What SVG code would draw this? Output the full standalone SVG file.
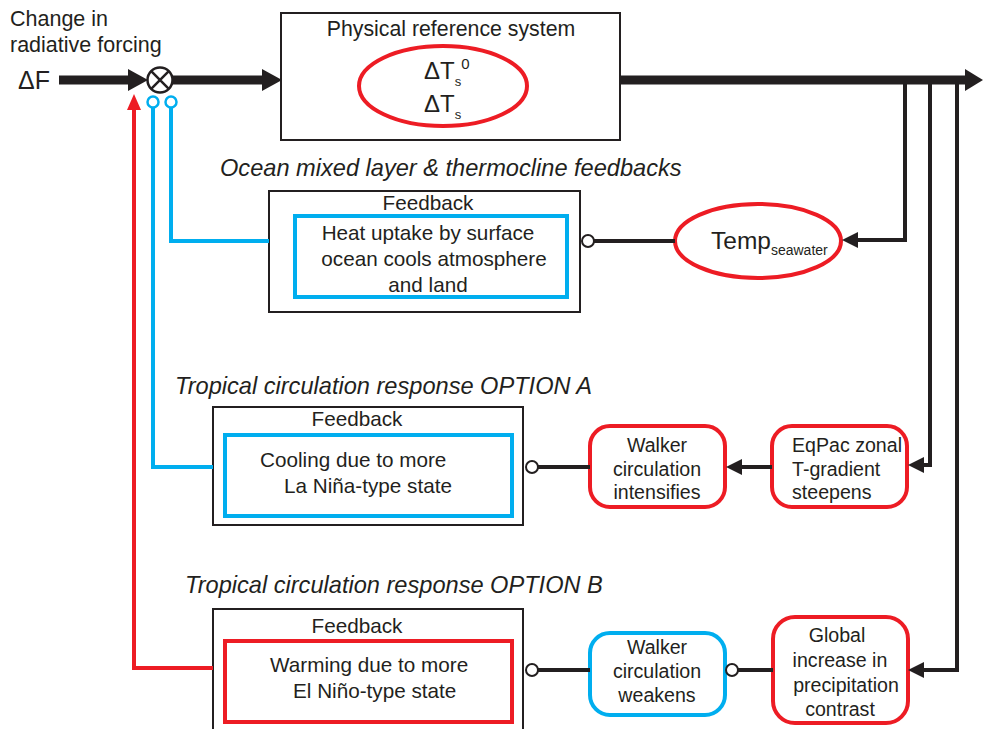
<svg xmlns="http://www.w3.org/2000/svg" width="983" height="729" viewBox="0 0 983 729">
<style>
text{font-family:"Liberation Sans",Arial,sans-serif;fill:#231f20}
.t{font-size:20.7px}
.s{font-size:19.6px}
.c{text-anchor:middle}
.it{font-style:italic;font-size:23.6px}
.box{fill:none;stroke:#231f20;stroke-width:2}
.cy{fill:none;stroke:#00aeef;stroke-width:4}
.rd{fill:none;stroke:#ed1c24;stroke-width:4}
.ln{fill:none;stroke:#231f20;stroke-width:4}
.oc{fill:#fff;stroke:#231f20;stroke-width:2}
</style>
<rect width="983" height="729" fill="#fff"/>
<g id="forcing">
<text x="10" y="26" font-size="21.5">Change in</text>
<text x="10" y="52" font-size="21.5">radiative forcing</text>
<text x="18" y="89" font-size="25">ΔF</text>
</g>
<g id="summing">
<circle cx="160" cy="80" r="12.5" fill="#fff" stroke="#231f20" stroke-width="2.5"/>
<path d="M151.2 71.2L168.8 88.8M168.8 71.2L151.2 88.8" stroke="#231f20" stroke-width="2.5"/>
</g>
<g id="physical">
<rect class="box" x="281" y="13" width="339" height="127"/>
<text class="c" x="451" y="36" font-size="21.3">Physical reference system</text>
<ellipse cx="443" cy="86" rx="84" ry="40" class="rd"/>
<text x="424" y="79" font-size="24">ΔT<tspan font-size="13" dy="7">s</tspan><tspan font-size="15" dy="-17">0</tspan></text>
<text x="424" y="112" font-size="24">ΔT<tspan font-size="13" dy="7">s</tspan></text>
</g>
<g id="temp">
<ellipse cx="758" cy="241" rx="83" ry="37" class="rd"/>
<text x="711" y="249" font-size="24.5">Temp<tspan font-size="14" dy="6">seawater</tspan></text>
</g>
<g id="labels">
<text class="it" x="220" y="176">Ocean mixed layer &amp; thermocline feedbacks</text>
<text class="it" x="175" y="394">Tropical circulation response OPTION A</text>
<text class="it" x="185" y="593">Tropical circulation response OPTION B</text>
</g>
<g id="feedback1">
<rect class="box" x="269" y="191" width="311" height="121"/>
<text class="t c" x="428" y="210">Feedback</text>
<rect class="cy" x="295" y="216" width="272" height="81"/>
<text class="t c" x="428" y="240">Heat uptake by surface</text>
<text class="t c" x="434" y="266">ocean cools atmosphere</text>
<text class="t c" x="428" y="292">and land</text>
</g>
<g id="feedbackA">
<rect class="box" x="213" y="407" width="310" height="118"/>
<text class="t c" x="357" y="426">Feedback</text>
<rect class="cy" x="225" y="435" width="287" height="81"/>
<text class="t" x="260" y="467">Cooling due to more</text>
<text class="t" x="284" y="493">La Niña-type state</text>
</g>
<g id="walkerA">
<rect class="rd" x="590" y="426" width="135" height="81" rx="20"/>
<text class="s c" x="657" y="452">Walker</text>
<text class="s c" x="657" y="476">circulation</text>
<text class="s c" x="657" y="499">intensifies</text>
</g>
<g id="eqpac">
<rect class="rd" x="772" y="426" width="135" height="81" rx="20"/>
<text class="s" x="792" y="452">EqPac zonal</text>
<text class="s" x="792" y="476">T-gradient</text>
<text class="s" x="792" y="499">steepens</text>
</g>
<g id="feedbackB">
<rect class="box" x="213" y="609" width="310" height="130"/>
<text class="t c" x="357" y="633">Feedback</text>
<rect class="rd" x="225" y="641" width="287" height="81"/>
<text class="t" x="270" y="672">Warming due to more</text>
<text class="t" x="293" y="698">El Niño-type state</text>
</g>
<g id="walkerB">
<rect class="cy" x="590" y="633" width="135" height="82" rx="20"/>
<text class="s c" x="657" y="654">Walker</text>
<text class="s c" x="657" y="678">circulation</text>
<text class="s c" x="657" y="702">weakens</text>
</g>
<g id="global">
<rect class="rd" x="773" y="617" width="135" height="106" rx="22"/>
<text class="s c" x="837" y="642">Global</text>
<text class="s c" x="840" y="667">increase in</text>
<text class="s c" x="846" y="692">precipitation</text>
<text class="s c" x="840" y="716">contrast</text>
</g>
<g id="connectors">
<path d="M59 80H130" stroke="#231f20" stroke-width="9"/>
<path d="M128 69L148 80L128 91Z" fill="#231f20"/>
<path d="M172 80H264" stroke="#231f20" stroke-width="9"/>
<path d="M262 69L282 80L262 91Z" fill="#231f20"/>
<path d="M620 80H968" stroke="#231f20" stroke-width="9"/>
<path d="M965 69L983 80L965 91Z" fill="#231f20"/>
<path class="ln" d="M905 80V240H856"/>
<path d="M858 232L842 240L858 248Z" fill="#231f20"/>
<path class="ln" d="M930 80V465H922"/>
<path d="M924 457L908 465L924 473Z" fill="#231f20"/>
<path class="ln" d="M957 80V670H922"/>
<path d="M924 662L908 670L924 678Z" fill="#231f20"/>
<path class="ln" d="M594 241H675"/>
<circle class="oc" cx="588" cy="241" r="6"/>
<path class="ln" d="M772 467H740"/>
<path d="M742 459L726 467L742 475Z" fill="#231f20"/>
<path class="ln" d="M538 467H590"/>
<circle class="oc" cx="532" cy="467" r="6"/>
<path class="ln" d="M538 670H590M738 670H773"/>
<circle class="oc" cx="532" cy="670" r="6"/>
<circle class="oc" cx="732" cy="670" r="6"/>
<path class="cy" d="M269 241H171V108"/>
<circle cx="171" cy="102" r="5.5" fill="#fff" stroke="#00aeef" stroke-width="2.5"/>
<path class="cy" d="M213 467H153V108"/>
<circle cx="153" cy="102" r="5.5" fill="#fff" stroke="#00aeef" stroke-width="2.5"/>
<path class="rd" d="M213 668H134V108"/>
<path d="M127 110L134 94L141 110Z" fill="#ed1c24"/>
</g>
</svg>
